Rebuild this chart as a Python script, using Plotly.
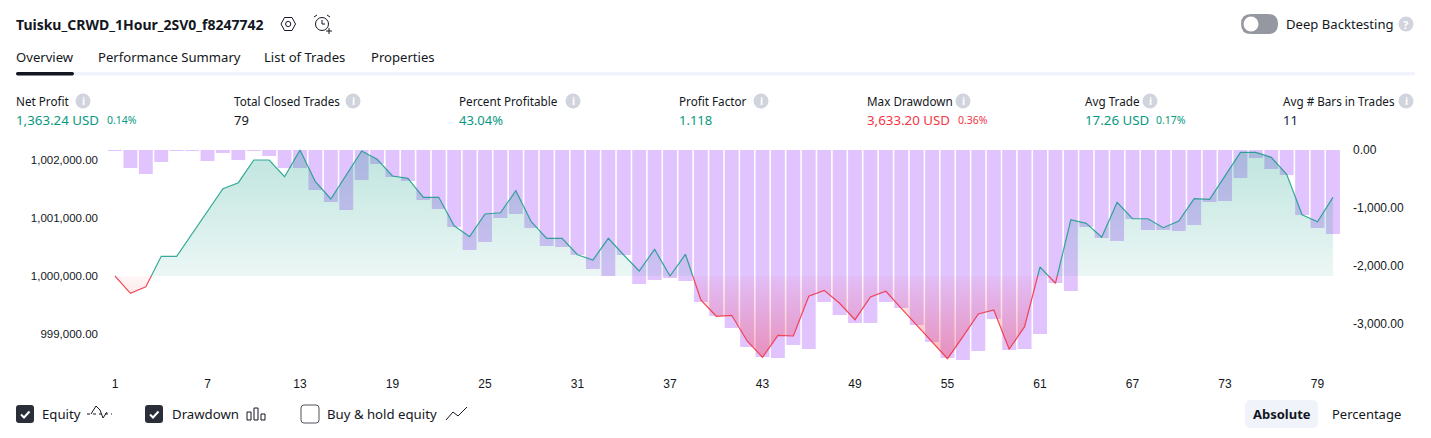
import plotly.graph_objects as go

W, H = 1431, 438
FONT = "Noto Sans"
AXFONT = "Liberation Sans"
DARK = "#131722"
GREEN = "#089981"
RED = "#F23645"
GREY = "#D1D4DC"

trades = list(range(1, 81))
base_equity = 1000000
equity = [1000000, 999703, 999816, 1000338, 1000338, 1000727, 1001112, 1001500, 1001603, 1001993,
          1001993, 1001706, 1002165, 1001620, 1001323, 1001747, 1002148, 1002005, 1001718, 1001678,
          1001352, 1001352, 1000864, 1000675, 1001065, 1001087, 1001465, 1000933, 1000648, 1000648,
          1000366, 1000275, 1000648, 1000361, 1000086, 1000459, 1000000, 1000373, 999588, 999308,
          999325, 998883, 998603, 998981, 998969, 999651, 999754, 999531, 999249, 999639,
          999737, 999445, 999158, 998871, 998579, 998957, 999347, 999416, 998741, 999129,
          1000155, 999875, 1000967, 1000905, 1000665, 1001266, 1000984, 1000984, 1000830, 1000945,
          1001328, 1001318, 1001723, 1002125, 1002125, 1002039, 1001747, 1001053, 1000933, 1001352]
drawdown = [-17, -311, -415, -208, -17, -17, -190, -52, -173, -17,
            -104, -311, -311, -692, -900, -1038, -519, -242, -467, -536,
            -865, -1021, -1332, -1730, -1592, -1176, -1107, -1349, -1661, -1678,
            -1817, -2059, -2180, -1817, -2318, -2249, -2215, -2266, -2630, -2872,
            -3080, -3408, -3581, -3599, -3374, -3443, -2630, -2855, -2993, -2993,
            -2630, -2734, -3028, -3322, -3599, -3633, -3478, -2924, -3460, -3443,
            -3183, -2301, -2439, -1332, -1522, -1574, -1194, -1384, -1384, -1401,
            -1298, -900, -882, -484, -138, -329, -433, -1125, -1349, -1453]
x_ticks = [1, 7, 13, 19, 25, 31, 37, 43, 49, 55, 61, 67, 73, 79]
left_ticks = [1002000, 1001000, 1000000, 999000]
left_labels = ["1,002,000.00", "1,001,000.00", "1,000,000.00", "999,000.00"]
right_ticks = [0, -1000, -2000, -3000]
right_labels = ["0.00", "-1,000.00", "-2,000.00", "-3,000.00"]

title = "Tuisku_CRWD_1Hour_2SV0_f8247742"
tabs = [("Overview", 16), ("Performance Summary", 98), ("List of Trades", 264), ("Properties", 371)]
metrics = [("Net Profit", 16, 83), ("Total Closed Trades", 234, 353), ("Percent Profitable", 459, 573),
           ("Profit Factor", 679, 761), ("Max Drawdown", 867, 963), ("Avg Trade", 1085, 1150),
           ("Avg # Bars in Trades", 1283, 1406)]
values = [("1,363.24 USD", 16, GREEN, 13.3), ("0.14%", 107, GREEN, 10.5), ("79", 234, DARK, 13),
          ("43.04%", 459, GREEN, 13), ("1.118", 679, GREEN, 13), ("3,633.20 USD", 867, RED, 13.3),
          ("0.36%", 958, RED, 10.5), ("17.26 USD", 1085, GREEN, 13.3), ("0.17%", 1156, GREEN, 10.5),
          ("11", 1283, "#141E46", 13)]
legend_items = [("Equity", 42), ("Drawdown", 172), ("Buy & hold equity", 327)]


def X(p):
    return p / W


def Y(p):
    return 1 - p / H


# Plot geometry in screen pixels
L, R, T, B, BASE_Y = 108, 1340, 150, 370, 276
X0, DX = 115, 15.417
EQ_PX = 58.2 / 1000   # px per USD, left scale
DD_PX = 57.8 / 1000   # px per USD, right scale
xr = [1 - (X0 - L) / DX, 1 + (R - X0) / DX]
EQ_TOP = 146


def eq_at(py):
    return base_equity + (BASE_Y - py) / EQ_PX


fig = go.Figure()
fig.add_trace(go.Bar(x=trades, y=drawdown, yaxis="y", width=0.9, marker=dict(color="#E1C3FE", line=dict(width=0)),
                     hoverinfo="skip", showlegend=False))
fig.add_trace(go.Scatter(x=trades, y=equity, yaxis="y2", mode="lines", line=dict(width=0), opacity=0,
                         hoverinfo="skip", showlegend=False))
base_series = [base_equity] * len(trades)
for axis, line_c, stops, start, stop in [
    ("y3", "rgba(8,153,129,0.8)", [[0, "rgba(8,153,129,0.08)"], [1, "rgba(8,153,129,0.26)"]], base_equity, eq_at(T)),
    ("y4", "rgba(242,54,69,0.9)", [[0, "rgba(242,54,69,0.36)"], [1, "rgba(242,54,69,0.04)"]], eq_at(358), base_equity),
]:
    fig.add_trace(go.Scatter(x=trades, y=base_series, yaxis=axis, mode="lines", line=dict(width=0),
                             hoverinfo="skip", showlegend=False))
    fig.add_trace(go.Scatter(x=trades, y=equity, yaxis=axis, mode="lines", line=dict(color=line_c, width=1.2),
                             fill="tonexty",
                             fillgradient=dict(type="vertical", colorscale=stops, start=start, stop=stop),
                             hoverinfo="skip", showlegend=False))

shapes = []


def rrect(x0, y0, x1, y1, r, fill=None, line=None, lw=1):
    d = (f"M{X(x0+r)},{Y(y0)} L{X(x1-r)},{Y(y0)} Q{X(x1)},{Y(y0)} {X(x1)},{Y(y0+r)} "
         f"L{X(x1)},{Y(y1-r)} Q{X(x1)},{Y(y1)} {X(x1-r)},{Y(y1)} L{X(x0+r)},{Y(y1)} "
         f"Q{X(x0)},{Y(y1)} {X(x0)},{Y(y1-r)} L{X(x0)},{Y(y0+r)} Q{X(x0)},{Y(y0)} {X(x0+r)},{Y(y0)} Z")
    shapes.append(dict(type="path", xref="paper", yref="paper", path=d, fillcolor=fill or "rgba(0,0,0,0)",
                       line=dict(color=line or "rgba(0,0,0,0)", width=lw if line else 0)))


def poly(pts, color=DARK, lw=1, close=False, dash=None):
    d = "M" + " L".join(f"{X(a)},{Y(b)}" for a, b in pts) + (" Z" if close else "")
    shapes.append(dict(type="path", xref="paper", yref="paper", path=d,
                       line=dict(color=color, width=lw, dash=dash or "solid")))


def circ(cx, cy, r, fill=None, line=None, lw=1):
    shapes.append(dict(type="circle", xref="paper", yref="paper", x0=X(cx-r), x1=X(cx+r), y0=Y(cy+r), y1=Y(cy-r),
                       fillcolor=fill or "rgba(0,0,0,0)", line=dict(color=line or "rgba(0,0,0,0)", width=lw if line else 0)))


annotations = []


def text(s, x, y, size=13, color=DARK, anchor="left", bold=False, font=FONT):
    annotations.append(dict(text=f"<b>{s}</b>" if bold else s, x=X(x), y=Y(y), xref="paper", yref="paper",
                            xanchor=anchor, yanchor="middle", showarrow=False, borderpad=0, borderwidth=0,
                            font=dict(family=font, size=size, color=color)))


# Header
text(title, 16, 24, size=14, bold=True)
poly([(281, 24), (284.5, 17.5), (292, 17.5), (295.5, 24), (292, 30.5), (284.5, 30.5)], close=True)
circ(288.2, 24, 2.6, line=DARK)
circ(322, 24, 6.5, line=DARK)
poly([(322, 20), (322, 24), (325, 24)])
poly([(314, 17), (317, 15)])
poly([(330, 17), (327, 15)])
poly([(326, 31), (332, 31)])
poly([(329, 28), (329, 34)])
rrect(1241, 14, 1278, 34, 10, fill="#9598A1")
circ(1251, 24, 7.5, fill="#FFFFFF")
text("Deep Backtesting", 1286, 24, size=13.1)
circ(1406, 24, 7.5, fill=GREY)
text("?", 1406, 24, size=11, color="#FFFFFF", anchor="center", bold=True)

# Tabs
for name, x in tabs:
    text(name, x, 57, size=13.1)
rrect(16, 72, 1415, 75.5, 1, fill="#F0F3FA")
rrect(16, 72, 74, 75.5, 1.7, fill=DARK)

# Metrics
for name, x, ix in metrics:
    text(name, x, 101, size=11.7)
    circ(ix, 101, 7.5, fill=GREY)
    text("i", ix, 101, size=10.5, color="#FFFFFF", anchor="center", bold=True)
for s, x, c, size in values:
    text(s, x, 120, size=size, color=c)

# Legend row
for (name, x), cx, on in zip(legend_items, [25, 154, 310], [True, True, False]):
    text(name, x, 414, size=13.2)
    if on:
        rrect(cx-9, 405, cx+9, 423, 3, fill="#2A2E39")
        poly([(cx-4, 414.5), (cx-1, 417.5), (cx+4.5, 411.5)], color="#FFFFFF", lw=2)
    else:
        rrect(cx-9, 405, cx+9, 423, 3, fill="#FFFFFF", line="#50535E")
poly([(87, 414), (112, 414)], lw=1, dash="dot")
poly([(91, 414), (96, 406), (100, 410), (103, 418), (107, 412)], lw=1)
for a, b, c, d in [(247, 412, 251, 420), (254, 408, 258, 420), (261, 414, 265, 420)]:
    shapes.append(dict(type="rect", xref="paper", yref="paper", x0=X(a), x1=X(c), y0=Y(d), y1=Y(b),
                       line=dict(color=DARK, width=1)))
poly([(446, 420), (453, 412), (458, 416), (467, 407)])
rrect(1245, 400, 1318, 428, 6, fill="#F0F3FA")
text("Absolute", 1281.5, 414, size=13, anchor="center", bold=True)
text("Percentage", 1366.5, 414, size=13, anchor="center")

dom = [Y(B), Y(T)]
fig.update_layout(
    width=W, height=H, autosize=False, margin=dict(l=0, r=0, t=0, b=0, autoexpand=False),
    paper_bgcolor="#FFFFFF", plot_bgcolor="rgba(0,0,0,0)", showlegend=False, barmode="overlay",
    hovermode=False,
    xaxis=dict(domain=[X(L), X(R)], range=xr, tickmode="array", tickvals=x_ticks, ticktext=[str(t) for t in x_ticks],
               showgrid=False, zeroline=False, showline=False, ticks="", ticklabelstandoff=5,
               tickfont=dict(family=AXFONT, size=12, color=DARK), fixedrange=True),
    yaxis=dict(domain=dom, range=[-(B - T) / DD_PX, 0], side="right", anchor="x", tickmode="array",
               tickvals=right_ticks, ticktext=right_labels, showgrid=False, zeroline=False, showline=False, ticks="",
               ticklabelstandoff=12, tickfont=dict(family=AXFONT, size=12, color=DARK), fixedrange=True),
    yaxis2=dict(domain=dom, range=[eq_at(B), eq_at(T)], side="left", anchor="x", overlaying="y", tickmode="array",
                tickvals=left_ticks, ticktext=left_labels, showgrid=False, zeroline=False, showline=False, ticks="",
                ticklabelstandoff=9, tickfont=dict(family=AXFONT, size=11.5, color=DARK), fixedrange=True),
    yaxis3=dict(domain=[Y(BASE_Y), Y(EQ_TOP)], range=[base_equity, eq_at(EQ_TOP)], anchor="x",
                visible=False, fixedrange=True),
    yaxis4=dict(domain=[Y(B), Y(BASE_Y)], range=[eq_at(B), base_equity], anchor="x",
                visible=False, fixedrange=True),
    shapes=shapes, annotations=annotations,
)

fig.write_html("out.html", config={"displayModeBar": False},
               post_script="document.body.style.margin='0';document.body.style.overflow='hidden';")
